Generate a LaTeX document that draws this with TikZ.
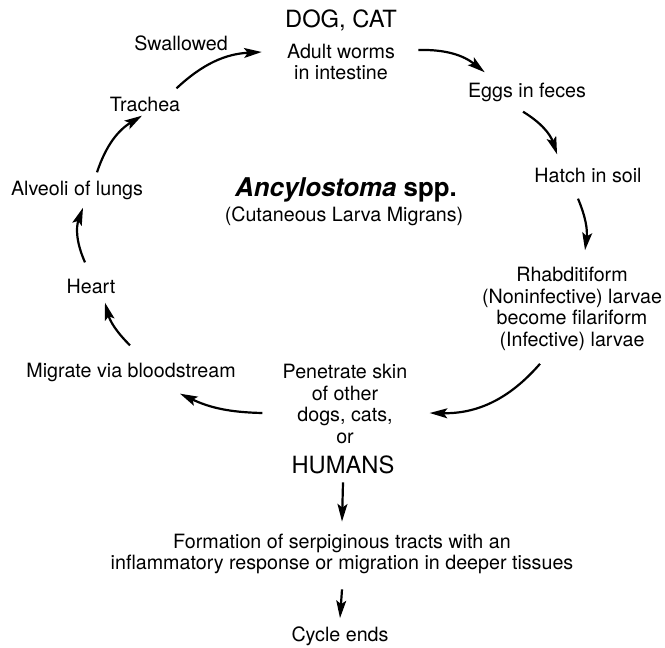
\documentclass[tikz,border=0pt]{standalone}
\usepackage{fontspec}
\setmainfont{TeX Gyre Heros}
\usetikzlibrary{arrows.meta}
\newcommand{\stagefont}{\fontsize{11.2}{12.2}\selectfont}
\newcommand{\hostfont}{\fontsize{13.5}{15}\selectfont}
\newcommand{\titlefont}{\fontsize{14.7}{16}\selectfont}
\tikzset{
    stage/.style={font=\stagefont, align=center, inner sep=0pt},
    host/.style={font=\hostfont, inner sep=0pt},
    cyc/.style={line width=1.25pt, -{Stealth[length=10pt,width=5.6pt,inset=2pt]}},
}

\begin{document}
\begin{tikzpicture}[x=0.02cm, y=-0.02cm]
    \useasboundingbox (0,0) rectangle (665,648);
    \node[host] (dog) at (341,20) {DOG, CAT};
    \node[stage] (adult) at (341,62) {Adult worms\\in intestine};
    \node[stage] (eggs) at (527,92) {Eggs in feces};
    \node[stage] (hatch) at (588,175) {Hatch in soil};
    \node[stage] (rhab) at (572,309) {Rhabditiform\\(Noninfective) larvae\\become filariform\\(Infective) larvae};
    \node[stage] (skin) at (345,404) {Penetrate skin\\of other\\dogs, cats,\\or};
    \node[host] (humans) at (343,465) {HUMANS};
    \node[stage] (tracts) at (342,554) {Formation of serpiginous tracts with an\\inflammatory response or migration in deeper tissues};
    \node[stage] (ends) at (340,636) {Cycle ends};
    \node[stage] (blood) at (131,372) {Migrate via bloodstream};
    \node[stage] (heart) at (91,286) {Heart};
    \node[stage] (lungs) at (77,190) {Alveoli of lungs};
    \node[stage] (trachea) at (145,104) {Trachea};
    \node[stage] (swallowed) at (181,43) {Swallowed};
    \node[font=\titlefont\bfseries, inner sep=0pt] (title) at (346,190) {\itshape Ancylostoma\upshape{} spp.};
    \node[stage] (subtitle) at (344,216) {(Cutaneous Larva Migrans)};

    \draw[cyc] ([shift={(23,-12)}]adult.east) to[bend left=20] ([shift={(17,-10)}]eggs.north west);
    \draw[cyc] ([shift={(-4,10)}]eggs.south) to[bend left=20] ([shift={(23,-13)}]hatch.north west);
    \draw[cyc] ([shift={(-10,16)}]hatch.south) to[bend left=15] ([shift={(13,-17)}]rhab.north);
    \draw[cyc] ([shift={(-32,13)}]rhab.south) to[bend left=25] ([shift={(22,9)}]skin.east);
    \draw[cyc] ([shift={(-20,9)}]skin.west) to[bend left=12] ([shift={(49,12)}]blood.south);
    \draw[cyc] ([shift={(-1,-17)}]blood.north) to[bend left=15] ([shift={(14,9)}]heart.south);
    \draw[cyc] ([shift={(-6,-16)}]heart.north) to[bend left=22] ([shift={(6,8)}]lungs.south);
    \draw[cyc] ([shift={(20,-8)}]lungs.north) to[bend left=20] ([shift={(-3,4)}]trachea.south);
    \draw[cyc] ([shift={(-4,-8)}]trachea.north east) to[bend left=20] ([shift={(-25,-10)}]adult.west);
    \draw[cyc] ([shift={(0,8)}]humans.south) -- ([shift={(0,-12)}]tracts.north);
    \draw[cyc] ([shift={(0,15)}]tracts.south) -- ([shift={(0,-8)}]ends.north);
\end{tikzpicture}
\end{document}
